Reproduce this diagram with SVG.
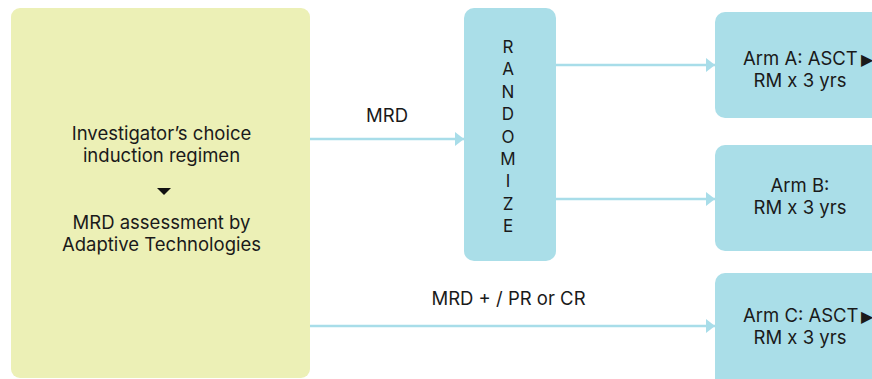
<svg xmlns="http://www.w3.org/2000/svg" width="872" height="379" viewBox="0 0 872 379">
<defs>
<style>
.t{font-family:Inter,"Noto Sans","Liberation Sans",sans-serif;font-size:18.5px;fill:#1a1a1a;text-anchor:middle}
.s{text-anchor:start}
.g{font-family:"DejaVu Sans",sans-serif;font-size:16px}
.r{font-family:Inter,"Noto Sans","Liberation Sans",sans-serif;font-size:17px;fill:#1a1a1a;text-anchor:middle}
.blue{fill:#AADEE8}
.c{stroke:#A8DDE9;stroke-width:2.5;fill:none}
</style>
<marker id="ah" markerUnits="userSpaceOnUse" markerWidth="9" markerHeight="14" refX="9" refY="7" orient="auto">
<path d="M0,0 L9,7 L0,14 Z" fill="#A8DDE9"/>
</marker>
</defs>
<rect width="872" height="379" fill="#fff"/>
<g id="connectors">
<line class="c" x1="310" y1="139" x2="464" y2="139" marker-end="url(#ah)"/>
<line class="c" x1="556" y1="65" x2="715" y2="65" marker-end="url(#ah)"/>
<line class="c" x1="556" y1="199" x2="715" y2="199" marker-end="url(#ah)"/>
<line class="c" x1="310" y1="326" x2="715" y2="326" marker-end="url(#ah)"/>
<text class="t" x="387" y="122">MRD</text>
<text class="t" x="508.5" y="305">MRD + / PR or CR</text>
</g>
<g id="induction">
<rect x="11" y="8" width="299" height="370" rx="9" fill="#ECF0B6"/>
<text class="t" x="161.5" y="140">Investigator’s choice</text>
<text class="t" x="161.5" y="162">induction regimen</text>
<polygon points="157,188 171,188 164,195" fill="#111"/>
<text class="t" x="161.5" y="229">MRD assessment by</text>
<text class="t" x="161.5" y="251">Adaptive Technologies</text>
</g>
<g id="randomize">
<rect class="blue" x="464" y="8" width="92" height="253" rx="10"/>
<text class="r" x="508" y="53">R</text>
<text class="r" x="508" y="75">A</text>
<text class="r" x="508" y="98">N</text>
<text class="r" x="508" y="120">D</text>
<text class="r" x="508" y="143">O</text>
<text class="r" x="508" y="165">M</text>
<text class="r" x="508" y="187">I</text>
<text class="r" x="508" y="210">Z</text>
<text class="r" x="508" y="232">E</text>
</g>
<g id="armA">
<rect class="blue" x="715" y="12" width="170" height="106" rx="10"/>
<text class="t s" x="743" y="65">Arm A: ASCT <tspan class="g" x="861" y="64.5">▶</tspan></text>
<text class="t" x="800" y="87">RM x 3 yrs</text>
</g>
<g id="armB">
<rect class="blue" x="715" y="145" width="170" height="106" rx="10"/>
<text class="t" x="800" y="192">Arm B:</text>
<text class="t" x="800" y="214">RM x 3 yrs</text>
</g>
<g id="armC">
<rect class="blue" x="715" y="273" width="170" height="120" rx="10"/>
<text class="t s" x="743" y="322">Arm C: ASCT <tspan class="g" x="861" y="321.5">▶</tspan></text>
<text class="t" x="800" y="344">RM x 3 yrs</text>
</g>
</svg>
